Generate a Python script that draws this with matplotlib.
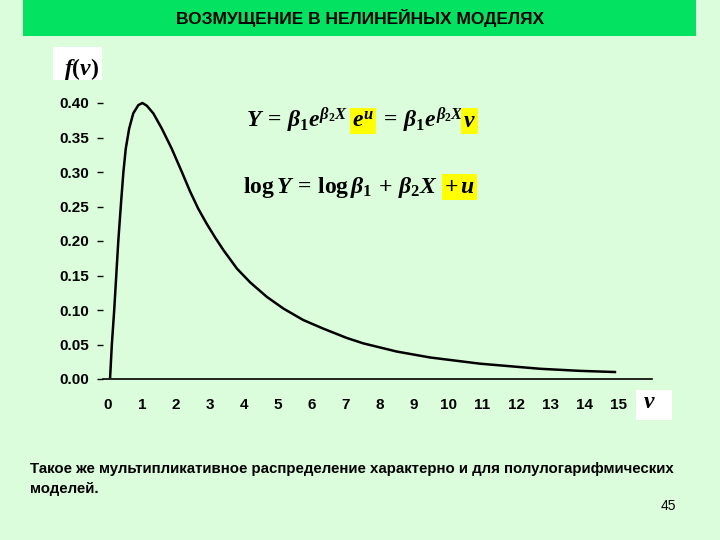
import matplotlib.pyplot as plt
import matplotlib.patches as patches

# curve f(v)
v_vals = [0.06, 0.11, 0.18, 0.24, 0.30, 0.38, 0.45, 0.52, 0.62, 0.74, 0.89, 1.01,
          1.14, 1.33, 1.58, 1.87, 2.17, 2.41, 2.65, 2.90, 3.15, 3.39, 3.79, 4.18, 4.67,
          5.16, 5.74, 6.33, 7.02, 7.51, 8.49, 9.47, 10.94, 12.71, 13.88, 14.91]
f_vals = [0.003, 0.05, 0.10, 0.15, 0.20, 0.255, 0.300, 0.334, 0.363, 0.385, 0.397, 0.400,
          0.396, 0.385, 0.363, 0.334, 0.300, 0.272, 0.247, 0.225, 0.205, 0.187, 0.160, 0.140,
          0.119, 0.102, 0.0855, 0.0730, 0.0595, 0.0516, 0.0398, 0.0312, 0.0222, 0.0148,
          0.0118, 0.0101]

x_ticks = list(range(0, 16))
y_ticks = [0.00, 0.05, 0.10, 0.15, 0.20, 0.25, 0.30, 0.35, 0.40]

title = 'ВОЗМУЩЕНИЕ В НЕЛИНЕЙНЫХ МОДЕЛЯХ'
note_line1 = 'Такое же мультипликативное распределение характерно и для полулогарифмических'
note_line2 = 'моделей.'
page_no = '45'

bg = '#dcfddc'
green = '#04e262'
yellow = '#ffff00'

plt.rcParams['font.family'] = ['Liberation Sans', 'DejaVu Sans']
plt.rcParams['mathtext.fontset'] = 'custom'
plt.rcParams['mathtext.rm'] = 'Liberation Serif:bold'
plt.rcParams['mathtext.bf'] = 'Liberation Serif:bold'
plt.rcParams['mathtext.it'] = 'Liberation Serif:bold:italic'

W, H = 720, 540
fig = plt.figure(figsize=(7.2, 5.4), dpi=100)
fig.patch.set_facecolor(bg)


def fx(px):
    return px / W


def fy(py):
    return 1 - py / H


# title banner
fig.add_artist(patches.Rectangle((fx(23), fy(36)), fx(696) - fx(23), 36 / H,
                                 transform=fig.transFigure, facecolor=green, edgecolor='none'))
fig.text(fx(360), fy(18), title, ha='center', va='center', fontsize=12.5, fontweight='bold')

# plot area
ax = fig.add_axes([fx(103), fy(379), fx(652) - fx(103), (379 - 103) / H])
ax.set_facecolor(bg)
ax.plot(v_vals, f_vals, color='black', lw=1.8, clip_on=False, solid_joinstyle='round')
ax.set_xlim(-0.15, 16)
ax.set_ylim(0, 0.40)
for s in ['top', 'right', 'left']:
    ax.spines[s].set_visible(False)
ax.spines['bottom'].set_linewidth(1.2)
ax.set_xticks(x_ticks)
ax.set_xticklabels([str(t) for t in x_ticks], fontsize=11, fontweight='bold')
ax.set_yticks(y_ticks)
ax.set_yticklabels(['%.2f' % t for t in y_ticks], fontsize=11, fontweight='bold')
ax.tick_params(axis='x', length=0, pad=14)
ax.tick_params(axis='y', length=4, width=1, pad=6)

# axis labels in white boxes
fig.add_artist(patches.Rectangle((fx(53), fy(80)), fx(49), 33 / H, transform=fig.transFigure,
                                 facecolor='white', edgecolor='none'))
fig.text(fx(64), fy(75), r'$f(v)$', fontsize=17, ha='left', va='baseline')
fig.add_artist(patches.Rectangle((fx(636), fy(420)), fx(36), 30 / H, transform=fig.transFigure,
                                 facecolor='white', edgecolor='none'))
fig.text(fx(643), fy(408), r'$v$', fontsize=17, ha='left', va='baseline')

# formulas
hl = dict(facecolor=yellow, edgecolor='none', pad=1.5)
fs = 17
fig.text(fx(246), fy(127), r'$Y\,=\,\beta_1 e^{\beta_2 X}$', fontsize=fs, ha='left', va='baseline')
fig.text(fx(352), fy(127), r'$e^u$', fontsize=fs, ha='left', va='baseline', bbox=hl)
fig.text(fx(380), fy(127), r'$=\,\beta_1 e^{\beta_2 X}$', fontsize=fs, ha='left', va='baseline')
fig.text(fx(463), fy(127), r'$v$', fontsize=fs, ha='left', va='baseline', bbox=hl)
fig.text(fx(243), fy(193), r'$\log Y\,=\,\log \beta_1\,+\,\beta_2 X$', fontsize=fs,
         ha='left', va='baseline')
fig.text(fx(444), fy(193), r'$+\,u$', fontsize=fs, ha='left', va='baseline', bbox=hl)

# bottom note
fig.text(fx(30), fy(473), note_line1, fontsize=10.8, fontweight='bold', ha='left', va='baseline')
fig.text(fx(30), fy(493), note_line2, fontsize=10.8, fontweight='bold', ha='left', va='baseline')
fig.text(fx(676), fy(510), page_no, fontsize=10, ha='right', va='baseline')

fig.savefig('out.png', dpi=100, facecolor=bg)
